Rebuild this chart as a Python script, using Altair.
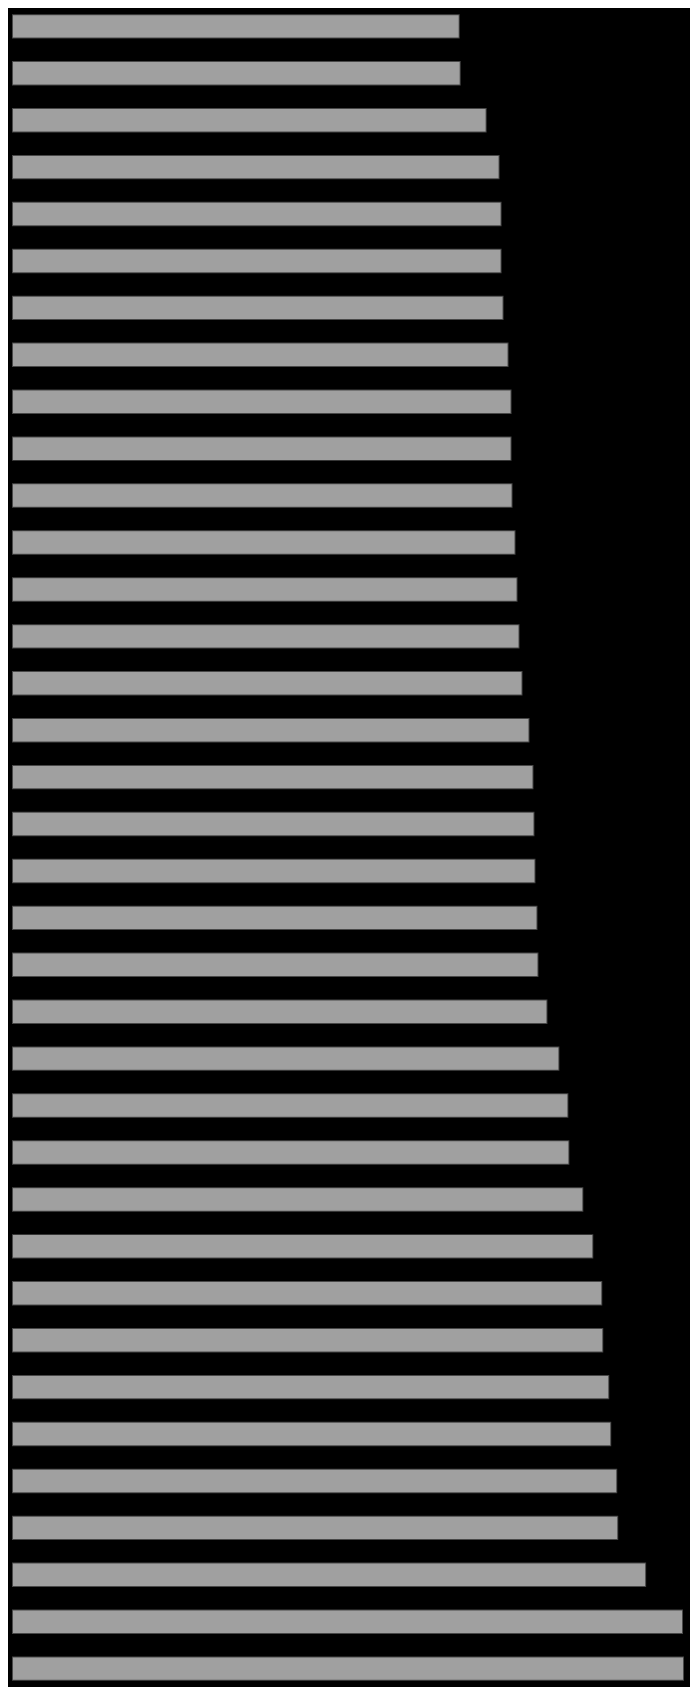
import altair as alt
import pandas as pd

categories = [f"item{i:02d}" for i in range(1, 37)]
values = [447, 448, 474, 487, 489, 489, 491, 496, 499,
          499, 500, 503, 505, 507, 510, 517, 521, 522,
          523, 525, 526, 535, 547, 556, 557, 571, 581,
          590, 591, 597, 599, 605, 606, 634, 671, 672]

df = pd.DataFrame({"category": categories, "value": values})

chart = (
    alt.Chart(df)
    .mark_bar(color="#a0a0a0", stroke="#a0a0a0", strokeOpacity=0.45, strokeWidth=2)
    .encode(
        x=alt.X("value:Q", axis=None, scale=alt.Scale(domain=[0, 672], nice=False, zero=True)),
        y=alt.Y("category:N", axis=None, sort=categories,
                scale=alt.Scale(paddingInner=0.522, paddingOuter=0.1)),
    )
    .properties(
        width=672,
        height=1679,
        background="#000000",
        padding={"left": 4, "top": 0, "right": 6, "bottom": 0},
    )
    .configure_view(strokeWidth=0)
)

chart.save("out.html", embed_options={"renderer": "svg", "actions": False})
